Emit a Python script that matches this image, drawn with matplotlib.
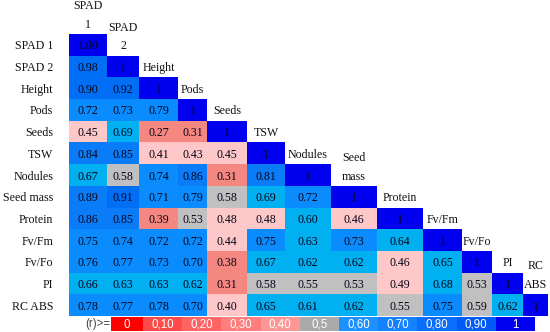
import numpy as np
import matplotlib
matplotlib.use('Agg')
import matplotlib.pyplot as plt

row_labels = ['SPAD 1', 'SPAD 2', 'Height', 'Pods', 'Seeds', 'TSW', 'Nodules',
              'Seed mass', 'Protein', 'Fv/Fm', 'Fv/Fo', 'PI', 'RC ABS']
header_labels = ['SPAD\n1', 'SPAD\n2', 'Height', 'Pods', 'Seeds', 'TSW', 'Nodules',
                 'Seed\nmass', 'Protein', 'Fv/Fm', 'Fv/Fo', 'PI', 'RC\nABS']

r_rows = [
    [1.00],
    [0.98, 1],
    [0.90, 0.92, 1],
    [0.72, 0.73, 0.79, 1],
    [0.45, 0.69, 0.27, 0.31, 1],
    [0.84, 0.85, 0.41, 0.43, 0.45, 1],
    [0.67, 0.58, 0.74, 0.86, 0.31, 0.81, 1],
    [0.89, 0.91, 0.71, 0.79, 0.58, 0.69, 0.72, 1],
    [0.86, 0.85, 0.39, 0.53, 0.48, 0.48, 0.60, 0.46, 1],
    [0.75, 0.74, 0.72, 0.72, 0.44, 0.75, 0.63, 0.73, 0.64, 1],
    [0.76, 0.77, 0.73, 0.70, 0.38, 0.67, 0.62, 0.62, 0.46, 0.65, 1],
    [0.66, 0.63, 0.63, 0.62, 0.31, 0.58, 0.55, 0.53, 0.49, 0.68, 0.53, 1],
    [0.78, 0.77, 0.78, 0.70, 0.40, 0.65, 0.61, 0.62, 0.55, 0.75, 0.59, 0.62, 1],
]
diag_labels = ['1.00'] + ['1'] * 12

bin_edges = [0.1, 0.2, 0.3, 0.4, 0.5, 0.6, 0.7, 0.8, 0.9, 1.0]
cell_colors = ['#FF0000', '#FF4040', '#F4877F', '#F4877F', '#FFC8C8', '#C0C0C0',
               '#00B0F0', '#0A8CFF', '#0A7CF8', '#006EF5', '#0000EE']

legend_labels = ['0', '0,10', '0,20', '0,30', '0,40', '0,5', '0,60', '0,70', '0,80', '0,90', '1']
legend_colors = ['#FF0000', '#FF4A4A', '#FF6464', '#FF7D7D', '#FF9696', '#AAAAAA',
                 '#1E90FF', '#1482FF', '#0A6EFA', '#005AF5', '#0000F0']

W, H = 550, 332
fig = plt.figure(figsize=(W / 100, H / 100), dpi=100)


def px_axes(x0, y0, x1, y1):
    return fig.add_axes([x0 / W, 1 - y1 / H, (x1 - x0) / W, (y1 - y0) / H])


serif = 'Liberation Serif'
txt_col = '#05051a'

ax = px_axes(69, 34, 548, 316)
col_edges = np.array([0, 38, 70, 109, 138, 178, 216, 262, 308, 354, 393, 423, 454, 479])
n = len(row_labels)
ax.set_xlim(0, col_edges[-1])
ax.set_ylim(n, 0)
ax.axis('off')

lefts, widths, bottoms, colors = [], [], [], []
for i, row in enumerate(r_rows):
    for j, v in enumerate(row):
        lefts.append(col_edges[j])
        widths.append(col_edges[j + 1] - col_edges[j])
        bottoms.append(i)
        colors.append(cell_colors[int(np.digitize(v, bin_edges))])
        label = diag_labels[i] if j == i else f'{v:.2f}'
        ax.text((col_edges[j] + col_edges[j + 1]) / 2, i + 0.5, label,
                ha='center', va='center_baseline', fontsize=8.6,
                family=serif, color=txt_col, zorder=3)
ax.bar(lefts, 1, width=widths, bottom=bottoms, align='edge', color=colors,
       linewidth=0, zorder=1)

row_h_px = 282 / n
for i, lab in enumerate(row_labels):
    ax.text(-16, i + 0.5, lab, ha='right', va='center_baseline', fontsize=8.6,
            family=serif, color='#111111', clip_on=False)

for j, lab in enumerate(header_labels):
    cx = (col_edges[j] + col_edges[j + 1]) / 2
    lines = lab.split('\n')
    for k, line in enumerate(reversed(lines)):
        ax.text(cx, j - 0.5 - k * 18.5 / row_h_px, line, ha='center',
                va='center_baseline', fontsize=8.6, family=serif,
                color='#111111', clip_on=False)

lg = px_axes(111, 317, 535, 331)
lw = [32] + [39.2] * 10
lx = np.concatenate([[0], np.cumsum(lw)[:-1]])
lg.set_xlim(0, sum(lw))
lg.set_ylim(0, 1)
lg.axis('off')
lg.bar(lx, 1, width=lw, align='edge', color=legend_colors, linewidth=0)
for x, w, lab in zip(lx, lw, legend_labels):
    lg.text(x + w / 2, 0.45, lab, ha='center', va='center', fontsize=8.3,
            family='Liberation Sans', color='white')

fig.text(110 / W, 1 - 324 / H, '(r)>=', ha='right', va='center', fontsize=8.3,
         family='Liberation Sans', color='#444444')

fig.savefig('out.png', dpi=100)
